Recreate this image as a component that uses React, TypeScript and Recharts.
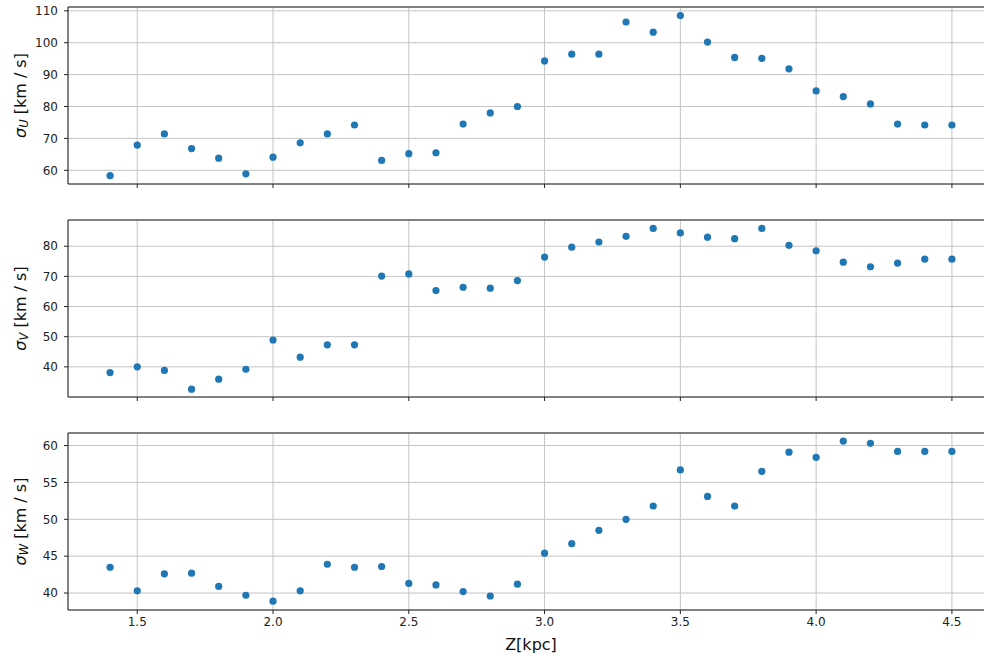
import React from "react";
import {
  ScatterChart,
  Scatter,
  XAxis,
  YAxis,
  CartesianGrid,
  ReferenceLine,
} from "recharts";

// Z in kpc
const zKpc = [
  1.4, 1.5, 1.6, 1.7, 1.8, 1.9, 2.0, 2.1, 2.2, 2.3, 2.4, 2.5, 2.6, 2.7, 2.8, 2.9,
  3.0, 3.1, 3.2, 3.3, 3.4, 3.5, 3.6, 3.7, 3.8, 3.9, 4.0, 4.1, 4.2, 4.3, 4.4, 4.5,
];

const sigmaU = [
  58.3, 67.9, 71.4, 66.8, 63.8, 58.9, 64.1, 68.6, 71.4, 74.2, 63.1, 65.2, 65.5,
  74.5, 78.0, 80.0, 94.3, 96.4, 96.4, 106.5, 103.3, 108.5, 100.2, 95.4, 95.1,
  91.8, 84.9, 83.1, 80.8, 74.5, 74.2, 74.2,
];

const sigmaV = [
  38.1, 40.0, 38.8, 32.6, 35.9, 39.2, 48.9, 43.2, 47.3, 47.3, 70.1, 70.8, 65.3,
  66.4, 66.1, 68.6, 76.4, 79.7, 81.4, 83.3, 85.9, 84.4, 83.0, 82.5, 85.9, 80.3,
  78.5, 74.7, 73.2, 74.4, 75.7, 75.7,
];

const sigmaW = [
  43.5, 40.3, 42.6, 42.7, 40.9, 39.7, 38.9, 40.3, 43.9, 43.5, 43.6, 41.3, 41.1,
  40.2, 39.6, 41.2, 45.4, 46.7, 48.5, 50.0, 51.8, 56.7, 53.1, 51.8, 56.5, 59.1,
  58.4, 60.6, 60.3, 59.2, 59.2, 59.2,
];

const xTicks = [1.5, 2.0, 2.5, 3.0, 3.5, 4.0, 4.5];
const uTicks = [60, 70, 80, 90, 100, 110];
const vTicks = [40, 50, 60, 70, 80];
const wTicks = [40, 45, 50, 55, 60];

const FONT = "DejaVu Sans, sans-serif";
const BLUE = "#1f77b4";
const X_DOMAIN: [number, number] = [1.245, 4.655];
const PLOT_H = 177;

const dot = (p: any) => <circle cx={p.cx} cy={p.cy} r={3.6} fill={BLUE} />;

function YLab(props: any) {
  const vb = props.viewBox || {};
  const x = vb.x + 12;
  const y = vb.y + vb.height / 2;
  return (
    <text
      x={x}
      y={y}
      transform={`rotate(-90, ${x}, ${y})`}
      textAnchor="middle"
      dominantBaseline="central"
      fontFamily={FONT}
      fontSize={16}
      fill="#111"
    >
      <tspan fontStyle="italic">σ</tspan>
      <tspan fontStyle="italic" fontSize={11.5} dy={4}>
        {props.sub}
      </tspan>
      <tspan dy={-4}> [km / s]</tspan>
    </text>
  );
}

function XLab(props: any) {
  const vb = props.viewBox || {};
  return (
    <text
      x={vb.x + vb.width / 2}
      y={vb.y + 34}
      textAnchor="middle"
      dominantBaseline="central"
      fontFamily={FONT}
      fontSize={16}
      fill="#111"
    >
      Z[kpc]
    </text>
  );
}

function Panel({
  top,
  values,
  domain,
  ticks,
  sub,
  last,
}: {
  top: number;
  values: number[];
  domain: [number, number];
  ticks: number[];
  sub: string;
  last?: boolean;
}) {
  const data = zKpc.map((z, i) => ({ z, v: values[i] }));
  return (
    <div style={{ position: "absolute", left: 0, top: top - 10 }}>
      <ScatterChart
        width={1000}
        height={10 + PLOT_H + 30 + 20}
        margin={{ top: 10, right: 6, bottom: 20, left: 8 }}
      >
        <CartesianGrid stroke="#c4c4c4" strokeWidth={1} />
        <XAxis
          type="number"
          dataKey="z"
          domain={X_DOMAIN}
          ticks={xTicks}
          allowDataOverflow
          height={30}
          tickSize={4}
          tickMargin={3}
          stroke="#222"
          tick={{ fill: "#222", fontSize: 12, fontFamily: FONT }}
          tickFormatter={(v: number) => (last ? v.toFixed(1) : "")}
          label={last ? <XLab /> : undefined}
        />
        <YAxis
          type="number"
          dataKey="v"
          domain={domain}
          ticks={ticks}
          allowDataOverflow
          width={60}
          tickSize={4}
          tickMargin={6}
          stroke="#222"
          tick={{ fill: "#222", fontSize: 12, fontFamily: FONT }}
          label={<YLab sub={sub} />}
        />
        <ReferenceLine y={domain[1]} stroke="#222" strokeWidth={1} />
        <Scatter data={data} shape={dot} isAnimationActive={false} />
      </ScatterChart>
    </div>
  );
}

export default function App() {
  return (
    <div
      style={{
        position: "fixed",
        left: 0,
        top: 0,
        width: 984,
        height: 657,
        overflow: "hidden",
        background: "#fff",
      }}
    >
      <Panel top={6.5} values={sigmaU} domain={[55.7, 111.2]} ticks={uTicks} sub="U" />
      <Panel top={219.5} values={sigmaV} domain={[30.0, 88.7]} ticks={vTicks} sub="V" />
      <Panel top={432.5} values={sigmaW} domain={[37.7, 61.7]} ticks={wTicks} sub="W" last />
    </div>
  );
}
